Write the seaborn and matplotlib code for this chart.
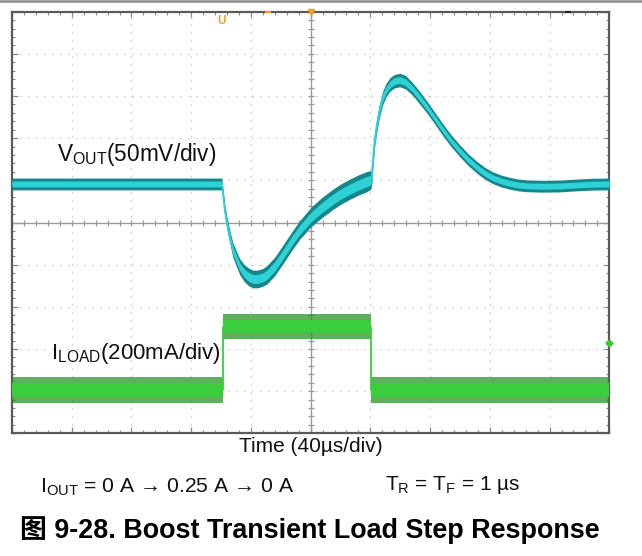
import numpy as np
import pandas as pd
import matplotlib
matplotlib.use("Agg")
import matplotlib.pyplot as plt
import seaborn as sns
from matplotlib.lines import Line2D
from matplotlib.ticker import MultipleLocator

# ---------------- data ----------------
# time axis: 40 us/div, 10 divisions, trigger at centre
vout_time_us = [-200, -59.4, -58.8, -57.5, -56.1, -54.0, -52.1, -49.5, -47.4, -44.5,
                -41.5, -38.7, -35.5, -32.0, -29.3, -24.0, -18.6, -13.0, -7.2, 0.0,
                7.0, 14.9, 20.0, 26.2, 32.0, 37.6, 40.3, 41.0, 41.8, 42.8,
                44.3, 46.0, 48.3, 50.5, 53.0, 56.0, 59.7, 63.5, 68.4, 73.0,
                77.8, 83.0, 88.5, 94.0, 99.9, 105.5, 111.3, 116.5, 122.0, 128.0,
                133.4, 139.0, 144.8, 155.0, 166.9, 178.0, 189.0, 200]
# VOUT relative to screen centre line (50 mV/div)
vout_mv = [45.7, 45.7, 35.0, 15.0, -0.6, -18.0, -32.6, -44.0, -52.8, -60.0,
           -64.5, -67.0, -67.0, -65.0, -62.0, -52.0, -38.0, -23.0, -8.5, 6.0,
           17.0, 27.5, 33.5, 39.5, 44.5, 48.5, 50.5, 56.0, 75.0, 97.0,
           115.0, 132.0, 148.0, 157.0, 163.5, 167.5, 169.0, 166.5, 158.0, 148.0,
           137.0, 124.0, 110.0, 97.0, 85.0, 74.5, 65.5, 58.5, 53.0, 49.0,
           46.5, 44.5, 43.5, 43.0, 43.3, 44.5, 45.5, 45.7]
# half-width of the noisy VOUT band (mV)
vout_spread_mv = [7, 7, 7, 7, 7.5, 8, 8.5, 9, 9.5, 10,
                  10.5, 10.5, 10.5, 10.5, 11, 11, 11, 11, 11, 11.5,
                  12, 12, 12, 12, 12, 12, 11, 9, 8, 8,
                  8, 8, 8, 8, 8, 8, 8, 8, 7.5, 7.5,
                  7, 7, 7, 7, 7, 7, 7, 7, 7, 7,
                  7, 7, 7, 7, 7, 7, 7, 7]

# ILOAD step (200 mA/div)
iload_time_us = [-200, -59.0, -59.0, 40.5, 40.5, 200]
iload_ma = [0, 0, 300, 300, 0, 0]
iload_spread_ma = 60     # peak noise half-width
iload_core_ma = 32       # dense noise half-width

# ---------------- styling / layout ----------------
W, H = 642, 556
sns.set_theme(style="white")
plt.rcParams["font.family"] = ["Liberation Sans", "DejaVu Sans"]
plt.rcParams["mathtext.fontset"] = "custom"
plt.rcParams["mathtext.rm"] = "Liberation Sans"
plt.rcParams["mathtext.it"] = "Liberation Sans:italic"
plt.rcParams["mathtext.bf"] = "Liberation Sans:bold"

fig = plt.figure(figsize=(W / 100, H / 100), dpi=100)
fig.patch.set_facecolor("white")
L, R, T, B = 12.0, 609.3, 11.7, 433.3
ax = fig.add_axes([L / W, 1 - B / H, (R - L) / W, (B - T) / H])
ax.set_facecolor("white")

X_DIV = 40.0               # us per division
V_DIV = 50.0               # mV per division
I_DIV = 200.0              # mA per division
V_CENTER = 5.0             # VOUT reference at centre line (div)
I_ZERO = 1.03              # ILOAD zero level (div from bottom)

ax.set_xlim(-200, 200)
ax.set_ylim(0, 10)

# grid
for k in range(1, 10):
    if k == 5:
        continue
    ax.axvline(-200 + k * X_DIV, color="#b5b5b5", lw=0.8, ls=(0, (1, 6.2)), zorder=1)
    ax.axhline(k, color="#b5b5b5", lw=0.8, ls=(0, (1, 6.2)), zorder=1)
ax.axhline(5, color="#9a9a9a", lw=1.0, zorder=1)
ax.axvline(0, color="#9a9a9a", lw=1.0, zorder=1)
tx = np.arange(-200, 200.1, X_DIV / 5)
ty = np.arange(0, 10.01, 0.2)
ax.scatter(tx, np.full_like(tx, 5.0), marker="|", s=14, color="#9a9a9a", lw=0.9, zorder=1)
ax.scatter(np.zeros_like(ty), ty, marker="_", s=14, color="#9a9a9a", lw=0.9, zorder=1)

# border ticks
ax.xaxis.set_major_locator(MultipleLocator(X_DIV))
ax.xaxis.set_minor_locator(MultipleLocator(X_DIV / 5))
ax.yaxis.set_major_locator(MultipleLocator(1))
ax.yaxis.set_minor_locator(MultipleLocator(0.2))
ax.tick_params(which="both", direction="in", top=True, right=True, bottom=True, left=True,
               labelbottom=False, labelleft=False, color="#8a8a8a")
ax.tick_params(which="major", length=4, width=0.9)
ax.tick_params(which="minor", length=2.5, width=0.8)
for s in ax.spines.values():
    s.set_color("#5a5a5a")
    s.set_linewidth(1.6)

# VOUT trace
vt = np.array(vout_time_us)
vy = V_CENTER + np.array(vout_mv) / V_DIV
vs = np.array(vout_spread_mv) / V_DIV
ax.fill_between(vt, vy - vs, vy + vs, color="#14878c", lw=0, zorder=3)
ax.fill_between(vt, vy - vs * 0.5, vy + vs * 0.5, color="#2fd2d4", lw=0, zorder=4)
vdf = pd.DataFrame({"t": vt, "y": vy})
sns.lineplot(data=vdf, x="t", y="y", ax=ax, color="#2fd2d4", lw=1.3,
             estimator=None, sort=False, zorder=5)

# ILOAD trace
it = np.array(iload_time_us)
iy = I_ZERO + np.array(iload_ma) / I_DIV
ax.fill_between(it, iy - iload_spread_ma / I_DIV, iy + iload_spread_ma / I_DIV,
                color="#1f931f", alpha=0.72, lw=0, zorder=3)
ax.fill_between(it, iy - iload_core_ma / I_DIV, iy + iload_core_ma / I_DIV,
                color="#3bcd3b", lw=0, zorder=4)
idf = pd.DataFrame({"t": it, "y": iy})
sns.lineplot(data=idf, x="t", y="y", ax=ax, color="#3bcd3b", lw=1.3,
             estimator=None, sort=False, zorder=5)
ax.set_xlabel("")
ax.set_ylabel("")

# scope markers
ax.plot([1.0], [(B - 343) / (B - T)], marker="D", ms=3.5, color="#2ecc2e",
        transform=ax.transAxes, clip_on=False, zorder=6)
ax.plot([0.5], [1.0], marker="v", ms=4.5, color="#f0a020",
        transform=ax.transAxes, clip_on=False, zorder=6)
ax.plot([(268 - L) / (R - L)], [1.0], marker="_", ms=4, mew=1.5, color="#f0a020",
        transform=ax.transAxes, clip_on=False, zorder=6)
ax.plot([(568 - L) / (R - L)], [1.0], marker="_", ms=4, mew=1.5, color="#202020",
        transform=ax.transAxes, clip_on=False, zorder=6)

def fx(px):
    return px / W

def fy(py):
    return 1 - py / H

fig.text(fx(222), fy(21), "U", color="#f0a020", fontsize=8.5, weight="bold",
         ha="center", va="center")

# top gray rule
fig.add_artist(Line2D([0, 1], [fy(1), fy(1)], color="#8c8c8c", lw=1.8))

# labels
fig.text(fx(57), fy(155), r"$\mathregular{V_{OUT}}$(50mV/div)", fontsize=16.3,
         ha="left", va="center", color="#111111")
fig.text(fx(51), fy(354), r"$\mathregular{I_{LOAD}}$(200mA/div)", fontsize=16,
         ha="left", va="center", color="#111111")
fig.text(fx(311), fy(447), "Time (40µs/div)", fontsize=15,
         ha="center", va="center", color="#111111")
fig.text(fx(40), fy(487), r"$\mathregular{I_{OUT}}$ = 0 A → 0.25 A → 0 A",
         fontsize=15.2, ha="left", va="center", color="#111111")
fig.text(fx(385), fy(485), r"$\mathregular{T_R}$ = $\mathregular{T_F}$ = 1 µs",
         fontsize=15, ha="left", va="center", color="#111111")
fig.text(fx(20), fy(530), "图 9-28. Boost Transient Load Step Response",
         fontsize=19.4, weight="bold", ha="left", va="center", color="#000000",
         family=["Liberation Sans", "Noto Sans CJK SC"])

fig.savefig("out.png", dpi=100, facecolor="white")
